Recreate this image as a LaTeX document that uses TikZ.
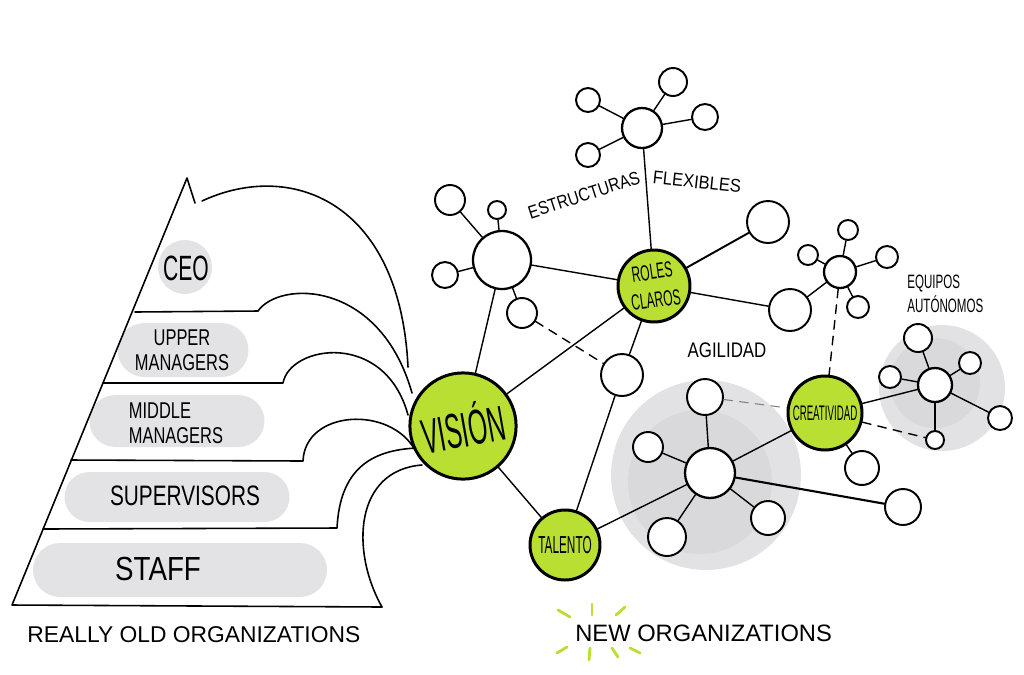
\documentclass[tikz,border=0pt]{standalone}
\usepackage{fontspec}
\setmainfont{Liberation Sans}
\usepackage{tikz}

\definecolor{lime}{HTML}{BADF33}
\definecolor{tiergray}{HTML}{E3E3E5}
\definecolor{blobout}{HTML}{E2E2E4}
\definecolor{blobin}{HTML}{D9D9DC}
\newcommand{\slim}[2][0.7]{\scalebox{#1}[1]{#2}}

\begin{document}
\begin{tikzpicture}[x=0.02cm, y=-0.02cm, line cap=round, line join=round]
    \useasboundingbox (0,0) rectangle (1024,674);

    % --- DEFINE STYLES ---
    % Pencil strokes of the old pyramid
    \tikzstyle{pencil} = [line width=0.9pt]
    % Grey pills holding the ranks
    \tikzstyle{tier} = [rectangle, fill=tiergray, inner sep=0pt]
    \tikzstyle{tiertext} = [inner sep=0pt]
    % Green key ideas
    \tikzstyle{keyq} = [circle, draw, line width=1.7pt, fill=lime, inner sep=0pt, align=center]
    % White hubs and their satellites
    \tikzstyle{hub} = [circle, draw, line width=1.3pt, fill=white, inner sep=0pt]
    \tikzstyle{sat} = [hub, line width=1.1pt]
    \tikzstyle{link} = [line width=0.8pt]
    \tikzstyle{dlink} = [link, dash pattern=on 5pt off 4pt]
    \tikzstyle{glink} = [dlink, gray, line width=0.6pt]
    \tikzstyle{ray} = [lime, line width=1.6pt]

    % --- OLD ORGANIZATIONS: PYRAMID ---
    \node[tier, circle, minimum size=54*0.02cm] (ceobox) at (185,267) {};
    \foreach \nm/\x/\y/\w/\h in {upperbox/183/350/131/54, middlebox/177/421/175/52,
                                  supbox/177/497/225/50, staffbox/180/570/294/54}
        \node[tier, minimum width=\w*0.02cm, minimum height=\h*0.02cm,
              rounded corners=\h*0.01cm] (\nm) at (\x,\y) {};

    \node[tiertext, font=\fontsize{20}{22}\selectfont] (ceo) at (186,268) {\slim[0.6]{CEO}};
    \node[tiertext, font=\fontsize{13}{14}\selectfont, align=center] (upper) at (182,350)
        {\slim[0.72]{UPPER}\\\slim[0.72]{MANAGERS}};
    \node[tiertext, font=\fontsize{13}{14}\selectfont, align=left] (middle) at (176,423)
        {\slim[0.72]{MIDDLE}\\\slim[0.72]{MANAGERS}};
    \node[tiertext, font=\fontsize{16}{18}\selectfont] (sup) at (185,496) {\slim[0.74]{SUPERVISORS}};
    \node[tiertext, font=\fontsize{19}{21}\selectfont] (staff) at (158,569) {\slim[0.83]{STAFF}};

    % outline and floors
    \draw[pencil] (195,203) -- (187,178) -- (12,605) -- (382,607);
    \draw[pencil] (202,201) .. controls (290,160) and (400,200) .. (408,367);
    \draw[pencil] (135,312) -- (258,311) .. controls (280,280) and (380,280) .. (412,393);
    \draw[pencil] (103,383) -- (283,383) .. controls (290,345) and (385,330) .. (408,415);
    \draw[pencil] (71,460) -- (303,461) .. controls (305,410) and (390,405) .. (415,450);
    \draw[pencil] (43,529) -- (337,528) .. controls (340,470) and (370,450) .. (417,448);
    \draw[pencil] (382,607) .. controls (350,550) and (355,470) .. (422,465);

    \node[font=\fontsize{13}{14}\selectfont, anchor=west, inner sep=0pt] (oldcap) at (27,635)
        {REALLY OLD ORGANIZATIONS};

    % --- NEW ORGANIZATIONS: NETWORK ---
    % grey team blobs
    \fill[blobout] (706,475) circle [radius=1.9cm];
    \fill[blobin] (700,482) circle [radius=1.44cm];
    \fill[blobout] (942,388) circle [radius=1.26cm];
    \fill[blobin] (935,383) circle [radius=0.9cm];

    % key ideas
    \node[keyq, minimum size=102*0.02cm] (vision) at (463,426)
        {\rotatebox{10}{\fontsize{28}{30}\selectfont\slim[0.5]{VISIÓN}}};
    \node[keyq, minimum size=72*0.02cm, rotate=8, font=\fontsize{12.5}{16}\selectfont] (roles) at (654,286)
        {\slim[0.55]{ROLES}\\\slim[0.55]{CLAROS}};
    \node[keyq, minimum size=70*0.02cm, font=\fontsize{14}{15}\selectfont] (talento) at (565,545)
        {\slim[0.48]{TALENTO}};
    \node[keyq, minimum size=74*0.02cm, font=\fontsize{12}{13}\selectfont] (crea) at (825,413)
        {\slim[0.46]{CREATIVIDAD}};

    % hubs
    \node[hub, minimum size=58*0.02cm] (hubA) at (502,260) {};
    \node[hub, minimum size=40*0.02cm] (hubB) at (642,128) {};
    \node[hub, minimum size=50*0.02cm] (hubD) at (710,473) {};
    \node[hub, minimum size=32*0.02cm] (hubE) at (840,272) {};
    \node[hub, minimum size=34*0.02cm] (hubF) at (935,385) {};
    \node[sat, minimum size=42*0.02cm] (bigR) at (768,222) {};
    \node[sat, minimum size=42*0.02cm] (ringR) at (790,310) {};
    \node[sat, minimum size=42*0.02cm] (nodeC) at (622,375) {};
    \node[sat, minimum size=34*0.02cm] (crsat) at (862,468) {};

    % satellites round each hub
    \foreach \nm/\x/\y/\r in {a1/450/200/15, a2/497/210/9, a3/445/275/13, a4/522/313/15} {
        \node[sat, minimum size=\r*0.04cm] (\nm) at (\x,\y) {};
        \draw[link] (hubA) -- (\nm);
    }
    \foreach \nm/\x/\y/\r in {b1/588/100/12, b2/673/82/14, b3/705/117/13, b4/588/155/12} {
        \node[sat, minimum size=\r*0.04cm] (\nm) at (\x,\y) {};
        \draw[link] (hubB) -- (\nm);
    }
    \foreach \nm/\x/\y/\r in {d1/705/397/18, d2/648/447/15, d3/667/537/19, d4/768/518/17} {
        \node[sat, minimum size=\r*0.04cm] (\nm) at (\x,\y) {};
        \draw[link] (hubD) -- (\nm);
    }
    \foreach \nm/\x/\y/\r in {e1/848/230/10, e2/808/255/10, e3/887/257/11, e4/858/307/11} {
        \node[sat, minimum size=\r*0.04cm] (\nm) at (\x,\y) {};
        \draw[link] (hubE) -- (\nm);
    }
    \foreach \nm/\x/\y/\r in {f1/918/338/14, f2/890/377/11, f3/970/363/11, f4/1000/418/12, f5/935/440/9} {
        \node[sat, minimum size=\r*0.04cm] (\nm) at (\x,\y) {};
        \draw[link] (hubF) -- (\nm);
    }
    \node[sat, minimum size=36*0.02cm] (d5) at (903,507) {};
    \draw[link, line width=1.2pt] (hubD) -- (d5);

    % links between ideas
    \draw[link] (vision) -- (hubA);
    \draw[link] (vision) -- (roles);
    \draw[link] (vision) -- (talento);
    \draw[link] (roles) -- (hubB);
    \draw[link] (roles) -- (hubA);
    \draw[link, line width=1.1pt] (roles) -- (bigR);
    \draw[link] (roles) -- (ringR);
    \draw[link] (roles) -- (nodeC);
    \draw[link] (nodeC) -- (talento);
    \draw[dlink] (a4) -- (nodeC);
    \draw[link] (talento) -- (hubD);
    \draw[link] (crea) -- (hubD);
    \draw[glink] (d1) -- (crea);
    \draw[link] (ringR) -- (hubE);
    \draw[dlink] (hubE) -- (crea);
    \draw[link] (crea) -- (hubF);
    \draw[dlink] (crea) -- (f5);
    \draw[link] (crea) -- (crsat);

    % labels
    \node[font=\fontsize{10.5}{12}\selectfont, rotate=18] (estr) at (584,195) {\slim[0.84]{ESTRUCTURAS}};
    \node[font=\fontsize{10.5}{12}\selectfont, rotate=-6] (flex) at (697,182) {\slim[0.9]{FLEXIBLES}};
    \node[font=\fontsize{12}{13}\selectfont] (agil) at (727,350) {\slim[0.8]{AGILIDAD}};
    \node[font=\fontsize{11}{13.6}\selectfont, align=left, anchor=west, inner sep=0pt] (equipos) at (907,294)
        {\slim[0.6]{EQUIPOS}\\\slim[0.6]{AUTÓNOMOS}};

    % caption with green sparks
    \node[font=\fontsize{13.5}{14}\selectfont, anchor=west, inner sep=0pt] (newcap) at (575,633)
        {NEW ORGANIZATIONS};
    \foreach \xa/\ya/\xb/\yb in {558/610/570/617, 592/604/592/615, 616/615/625/607,
                                  557/653/567/647, 589/660/590/648, 612/648/618/657, 630/648/640/653}
        \draw[ray] (\xa,\ya) -- (\xb,\yb);
\end{tikzpicture}
\end{document}
